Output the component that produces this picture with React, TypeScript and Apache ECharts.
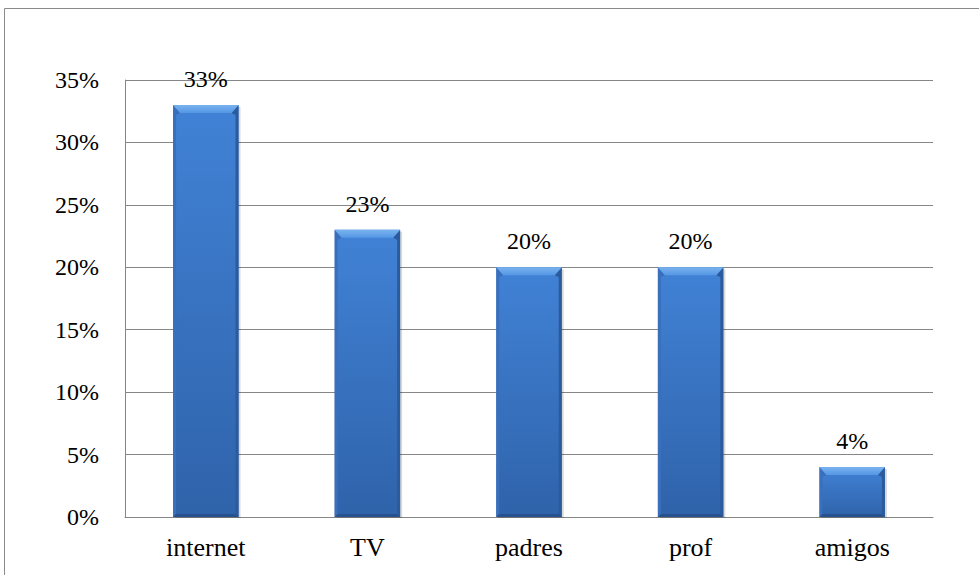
import React, { useEffect, useRef } from "react";
import * as echarts from "echarts";

const categories = ["internet", "TV", "padres", "prof", "amigos"];
const values = [33, 23, 20, 20, 4];
const yTicks = [0, 5, 10, 15, 20, 25, 30, 35];

export default function App() {
  const ref = useRef<HTMLDivElement>(null);
  useEffect(() => {
    if (!ref.current) return;
    const chart = echarts.init(ref.current, null, { renderer: "svg" });
    const font = "Liberation Serif";
    chart.setOption({
      animation: false,
      backgroundColor: "#ffffff",
      textStyle: { fontFamily: font },
      graphic: [
        {
          type: "rect",
          shape: { x: 4.5, y: 8.5, width: 1100, height: 1100 },
          style: { fill: "none", stroke: "#8a8a8a", lineWidth: 1 },
          silent: true,
          z: -1,
        },
      ],
      grid: { left: 125, right: 46, top: 80, bottom: 58 },
      xAxis: {
        type: "category",
        data: categories,
        axisLine: { lineStyle: { color: "#868686" } },
        axisTick: { show: false },
        axisLabel: { color: "#000", fontFamily: font, fontSize: 26, margin: 17 },
      },
      yAxis: {
        type: "value",
        min: yTicks[0],
        max: yTicks[yTicks.length - 1],
        interval: 5,
        axisLine: { show: true, lineStyle: { color: "#868686" } },
        axisTick: { show: false },
        splitLine: { lineStyle: { color: "#868686" } },
        axisLabel: {
          color: "#000",
          fontFamily: font,
          fontSize: 24,
          margin: 26,
          formatter: (v: number) => v + "%",
        },
      },
      series: [
        {
          type: "custom",
          data: values.map((v, i) => [i, v]),
          renderItem: (params: any, api: any) => {
            const xi = api.value(0);
            const yv = api.value(1);
            const top = api.coord([xi, yv]);
            const base = api.coord([xi, 0]);
            const w = api.size([1, 0])[0] * 0.405;
            const l = top[0] - w / 2;
            const r = top[0] + w / 2;
            const t = top[1];
            const b = base[1];
            const tb = Math.min(8, (b - t) / 2);
            const ci = 7;
            const sb = 3;
            const bb = 3;
            return {
              type: "group",
              children: [
                {
                  type: "rect",
                  shape: { x: l + 2, y: t + 2, width: w, height: b - t - 1 },
                  style: { fill: "rgba(0,0,0,0.15)" },
                },
                {
                  type: "rect",
                  shape: { x: l, y: t, width: w, height: b - t },
                  style: {
                    fill: new echarts.graphic.LinearGradient(0, 0, 0, 1, [
                      { offset: 0, color: "#4182d6" },
                      { offset: 1, color: "#2f63aa" },
                    ]),
                  },
                },
                {
                  type: "polygon",
                  shape: { points: [[l, t], [l + ci, t + tb], [l + sb, t + tb + 2], [l + sb, b - bb], [l, b]] },
                  style: { fill: "#3a70bb" },
                },
                {
                  type: "polygon",
                  shape: { points: [[r, t], [r - ci, t + tb], [r - sb, t + tb + 2], [r - sb, b - bb], [r, b]] },
                  style: { fill: "#2c5b9d" },
                },
                {
                  type: "polygon",
                  shape: { points: [[l, t], [r, t], [r - ci, t + tb], [l + ci, t + tb]] },
                  style: {
                    fill: new echarts.graphic.LinearGradient(0, 0, 0, 1, [
                      { offset: 0, color: "#7ab2ef" },
                      { offset: 1, color: "#5497e4" },
                    ]),
                  },
                },
                {
                  type: "polygon",
                  shape: { points: [[l, b], [l + sb, b - bb], [r - sb, b - bb], [r, b]] },
                  style: { fill: "#28528f" },
                },
                {
                  type: "text",
                  style: {
                    text: yv + "%",
                    x: top[0],
                    y: t - 26,
                    align: "center",
                    verticalAlign: "middle",
                    fill: "#000",
                    fontFamily: font,
                    fontSize: 24,
                  },
                },
              ],
            };
          },
        },
      ],
    });
    return () => chart.dispose();
  }, []);
  return (
    <div
      ref={ref}
      style={{ position: "absolute", left: 0, top: 0, width: 979, height: 575 }}
    />
  );
}
